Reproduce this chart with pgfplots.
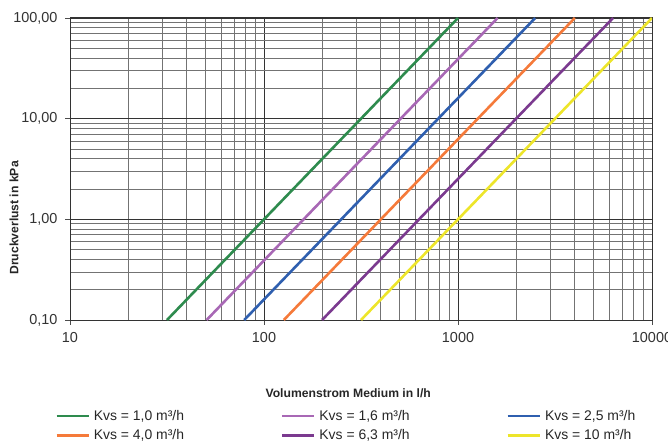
\documentclass[border=0pt]{standalone}
\usepackage{fontspec}
\setmainfont{Liberation Sans}
\usepackage{pgfplots}
\pgfplotsset{compat=1.18}
\usetikzlibrary{calc}
\definecolor{cgreen}{HTML}{2E8B4E}
\definecolor{clpurple}{HTML}{A868B5}
\definecolor{cblue}{HTML}{2F5FAF}
\definecolor{corange}{HTML}{F57A3A}
\definecolor{cdpurple}{HTML}{7B3A8F}
\definecolor{cyellow}{HTML}{EDE52A}
\begin{document}
\begin{tikzpicture}
\begin{axis}[
  scale only axis,
  width=582bp, height=302bp,
  xmode=log, ymode=log,
  xmin=10, xmax=10000, ymin=0.1, ymax=100,
  xtick={10,100,1000,10000},
  xticklabels={10,100,1000,10000},
  ytick={0.1,1,10,100},
  yticklabels={{0,10},{1,00},{10,00},{100,00}},
  xtick pos=bottom, ytick pos=left,
  tick label style={font=\fontsize{14.5}{16}\selectfont, text=black!80},
  xticklabel style={yshift=-4bp},
  yticklabel style={xshift=-4bp},
  tick align=outside,
  major tick length=5bp,
  minor tick length=0bp,
  tick style={black!70, line width=0.8bp},
  grid=both,
  major grid style={black!80, line width=0.9bp},
  minor grid style={black!55, line width=0.9bp},
  axis line style={black!80, line width=1bp},
  xlabel={Volumenstrom Medium in l/h},
  xlabel style={font=\bfseries\fontsize{12.2}{14}\selectfont, text=black!85, at={(rel axis cs:0.478,0)}, anchor=center, yshift=-73bp},
  ylabel={Druckverlust in kPa},
  ylabel style={font=\bfseries\fontsize{12.2}{14}\selectfont, text=black!85, at={(rel axis cs:0,0.338)}, anchor=center, yshift=56bp},
  legend columns=3,
  legend cell align=left,
  legend image code/.code={\draw[#1] (0bp,0bp) -- (32bp,0bp);},
  legend style={at={(rel axis cs:0,0)}, anchor=north west, xshift=-15bp, yshift=-89bp, draw=none, fill=none, inner sep=0pt,
    font=\fontsize{14}{16}\selectfont, text=black!85, row sep=6bp,
    nodes={inner xsep=4bp, inner ysep=1bp}},
  every axis plot/.append style={line width=2.6bp},
]
\coordinate (ll) at (rel axis cs:0,0);
\coordinate (ur) at (rel axis cs:1,1);
\addplot[cgreen] coordinates {(31.62,0.1) (1000,100)};
\addlegendentry{\makebox[183bp][l]{Kvs = 1,0 m³/h}}
\addplot[clpurple] coordinates {(50.6,0.1) (1600,100)};
\addlegendentry{\makebox[183bp][l]{Kvs = 1,6 m³/h}}
\addplot[cblue] coordinates {(79.06,0.1) (2500,100)};
\addlegendentry{Kvs = 2,5 m³/h}
\addplot[corange] coordinates {(126.5,0.1) (4000,100)};
\addlegendentry{Kvs = 4,0 m³/h}
\addplot[cdpurple] coordinates {(199.2,0.1) (6300,100)};
\addlegendentry{Kvs = 6,3 m³/h}
\addplot[cyellow] coordinates {(316.2,0.1) (10000,100)};
\addlegendentry{Kvs = 10 m³/h}
\end{axis}
\pgfresetboundingbox
\path[use as bounding box] ($(ll)+(-70bp,-123bp)$) rectangle ($(ur)+(16bp,18bp)$);
\end{tikzpicture}
\end{document}
